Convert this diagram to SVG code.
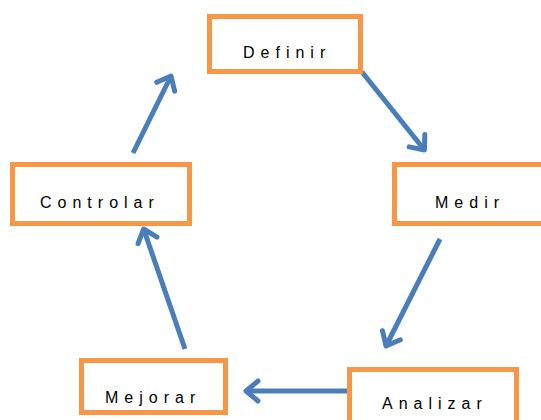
<svg xmlns="http://www.w3.org/2000/svg" width="541" height="420" viewBox="0 0 541 420">
<defs>
<style>
.box{fill:#fff;stroke:#F79646;stroke-width:5}
.lbl{font-family:"Liberation Sans",Arial,sans-serif;font-size:16px;fill:#000;letter-spacing:6px}
.con{stroke:#4A7EBB;stroke-width:5;fill:none;stroke-linecap:butt}
</style>
<marker id="ah" markerUnits="userSpaceOnUse" markerWidth="30" markerHeight="30" viewBox="-15 -15 30 30" refX="0" refY="0" orient="auto">
<path d="M-12,-10 L0,0 L-12,10" fill="none" stroke="#4A7EBB" stroke-width="5" stroke-linecap="round" stroke-linejoin="round"/>
</marker>
</defs>
<rect width="541" height="420" fill="#fff"/>
<g id="connectors">
<line class="con" x1="362" y1="72" x2="424.5" y2="150" marker-end="url(#ah)"/>
<line class="con" x1="440" y1="239" x2="386" y2="346" marker-end="url(#ah)"/>
<line class="con" x1="350" y1="391" x2="246" y2="391" marker-end="url(#ah)"/>
<line class="con" x1="185" y1="349" x2="143.6" y2="229" marker-end="url(#ah)"/>
<line class="con" x1="133" y1="153" x2="171" y2="76" marker-end="url(#ah)"/>
</g>
<g id="definir">
<rect class="box" x="209.5" y="16.5" width="151" height="55"/>
<text class="lbl" x="243" y="58">Definir</text>
</g>
<g id="medir">
<rect class="box" x="394.5" y="164.5" width="152" height="59"/>
<text class="lbl" x="435" y="208">Medir</text>
</g>
<g id="analizar">
<rect class="box" x="349.5" y="369.5" width="167" height="60"/>
<text class="lbl" x="382" y="409">Analizar</text>
</g>
<g id="mejorar">
<rect class="box" x="81.5" y="360.5" width="144" height="52"/>
<text class="lbl" x="105" y="403">Mejorar</text>
</g>
<g id="controlar">
<rect class="box" x="12.5" y="164.5" width="177" height="59"/>
<text class="lbl" x="40" y="208">Controlar</text>
</g>
</svg>
